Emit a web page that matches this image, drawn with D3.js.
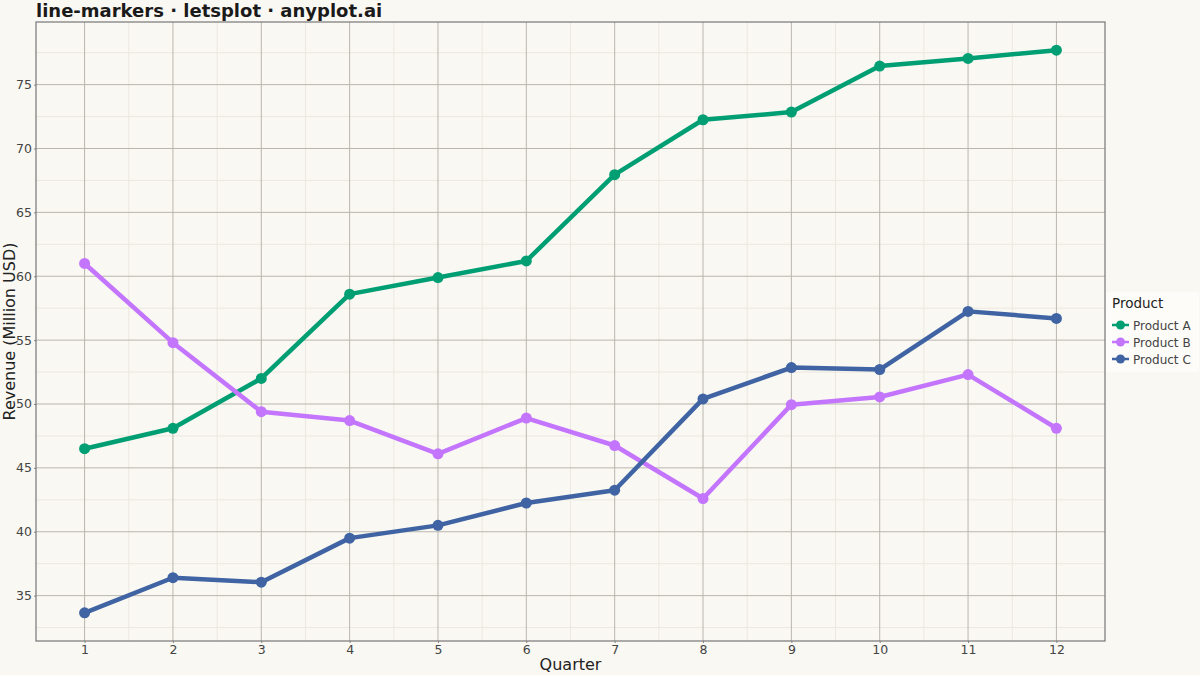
<!DOCTYPE html>
<html>
<head>
<meta charset="utf-8">
<script src="https://cdn.jsdelivr.net/npm/d3@7"></script>
<style>
  body { margin: 0; background: #faf8f2; }
  svg { display: block; font-family: "DejaVu Sans", sans-serif; }
</style>
</head>
<body>
<div id="chart"></div>
<script>
const quarters = [1, 2, 3, 4, 5, 6, 7, 8, 9, 10, 11, 12]
const productA = [46.5, 48.1, 52.0, 58.6, 59.9, 61.2, 67.95, 72.25, 72.85, 76.45, 77.05, 77.7]
const productB = [61.0, 54.8, 49.4, 48.7, 46.1, 48.9, 46.75, 42.6, 49.95, 50.55, 52.3, 48.1]
const productC = [33.65, 36.4, 36.05, 39.5, 40.5, 42.25, 43.25, 50.4, 52.85, 52.7, 57.25, 56.7]
const seriesNames = ["Product A", "Product B", "Product C"]
const colors = ["#009e73", "#c475fd", "#3f63a3"]
const yTicks = [35, 40, 45, 50, 55, 60, 65, 70, 75]

const width = 1200, height = 675
const margin = { top: 22, right: 95, bottom: 34, left: 36 }

const svg = d3.select("#chart").append("svg")
    .attr("width", width)
    .attr("height", height)

svg.append("rect")
    .attr("width", width)
    .attr("height", height)
    .attr("fill", "#faf8f2")

const allVals = productA.concat(productB, productC)
const yMin = d3.min(allVals), yMax = d3.max(allVals)
const yPad = (yMax - yMin) * 0.05

const x = d3.scaleLinear()
    .domain([1 - 0.55, 12 + 0.55])
    .range([margin.left, width - margin.right])

const y = d3.scaleLinear()
    .domain([yMin - yPad, yMax + yPad])
    .range([height - margin.bottom, margin.top])

// minor grid
const g = svg.append("g")
for (let i = 0; i < quarters.length - 1; i++) {
    g.append("line")
        .attr("x1", x(quarters[i] + 0.5)).attr("x2", x(quarters[i] + 0.5))
        .attr("y1", margin.top).attr("y2", height - margin.bottom)
        .attr("stroke", "#ebe8e0").attr("stroke-width", 1)
}
const yMinor = [32.5].concat(yTicks.map(t => t + 2.5))
yMinor.forEach(t => {
    g.append("line")
        .attr("x1", margin.left).attr("x2", width - margin.right)
        .attr("y1", y(t)).attr("y2", y(t))
        .attr("stroke", "#ebe8e0").attr("stroke-width", 1)
})

// major grid
quarters.forEach(q => {
    g.append("line")
        .attr("x1", x(q)).attr("x2", x(q))
        .attr("y1", margin.top).attr("y2", height - margin.bottom)
        .attr("stroke", "#b9b6ae").attr("stroke-width", 1)
})
yTicks.forEach(t => {
    g.append("line")
        .attr("x1", margin.left).attr("x2", width - margin.right)
        .attr("y1", y(t)).attr("y2", y(t))
        .attr("stroke", "#b9b6ae").attr("stroke-width", 1)
})

// axes
const xAxis = svg.append("g")
    .attr("transform", "translate(0," + (height - margin.bottom) + ")")
    .call(d3.axisBottom(x).tickValues(quarters).tickFormat(d3.format("d")).tickSize(2).tickPadding(2))
const yAxis = svg.append("g")
    .attr("transform", "translate(" + margin.left + ",0)")
    .call(d3.axisLeft(y).tickValues(yTicks).tickSize(2).tickPadding(2))

;[xAxis, yAxis].forEach(a => {
    a.select(".domain").remove()
    a.selectAll(".tick line").attr("stroke", "#888")
    a.selectAll(".tick text")
        .attr("fill", "#444")
        .style("font-size", "12.5px")
        .style("font-family", "DejaVu Sans")
})

// frame
svg.append("rect")
    .attr("x", margin.left)
    .attr("y", margin.top)
    .attr("width", width - margin.right - margin.left)
    .attr("height", height - margin.bottom - margin.top)
    .attr("fill", "none")
    .attr("stroke", "#777")
    .attr("stroke-width", 1.2)

// series
const series = [productA, productB, productC]
const line = d3.line()
    .x((d, i) => x(quarters[i]))
    .y(d => y(d))

series.forEach((vals, s) => {
    svg.append("path")
        .datum(vals)
        .attr("d", line)
        .attr("fill", "none")
        .attr("stroke", colors[s])
        .attr("stroke-width", 4.5)
        .attr("stroke-linejoin", "round")

    svg.selectAll(".pt" + s)
        .data(vals)
        .enter().append("circle")
        .attr("cx", (d, i) => x(quarters[i]))
        .attr("cy", d => y(d))
        .attr("r", 5.5)
        .attr("fill", colors[s])
})

// titles
svg.append("text")
    .attr("x", 36)
    .attr("y", 17)
    .attr("font-size", 18)
    .attr("font-weight", "bold")
    .attr("fill", "#1a1a1a")
    .text("line-markers · letsplot · anyplot.ai")

svg.append("text")
    .attr("x", (margin.left + width - margin.right) / 2)
    .attr("y", 670)
    .attr("text-anchor", "middle")
    .attr("font-size", 16)
    .attr("fill", "#222")
    .text("Quarter")

svg.append("text")
    .attr("transform", "translate(15," + ((margin.top + height - margin.bottom) / 2) + ") rotate(-90)")
    .attr("text-anchor", "middle")
    .attr("font-size", 16)
    .attr("fill", "#222")
    .text("Revenue (Million USD)")

// legend
const lg = svg.append("g").attr("transform", "translate(1106,292)")
lg.append("rect")
    .attr("width", 93)
    .attr("height", 80)
    .attr("fill", "#fdfcf9")
lg.append("text")
    .attr("x", 6)
    .attr("y", 16)
    .attr("font-size", 13.5)
    .attr("fill", "#222")
    .text("Product")
seriesNames.forEach((name, i) => {
    const row = lg.append("g").attr("transform", "translate(6," + (33 + i * 17) + ")")
    row.append("line")
        .attr("x1", 0).attr("x2", 17)
        .attr("stroke", colors[i]).attr("stroke-width", 2.5)
    row.append("circle")
        .attr("cx", 8.5).attr("r", 4.5)
        .attr("fill", colors[i])
    row.append("text")
        .attr("x", 21)
        .attr("y", 4.5)
        .attr("font-size", 12)
        .attr("fill", "#444")
        .text(name)
})
</script>
</body>
</html>
